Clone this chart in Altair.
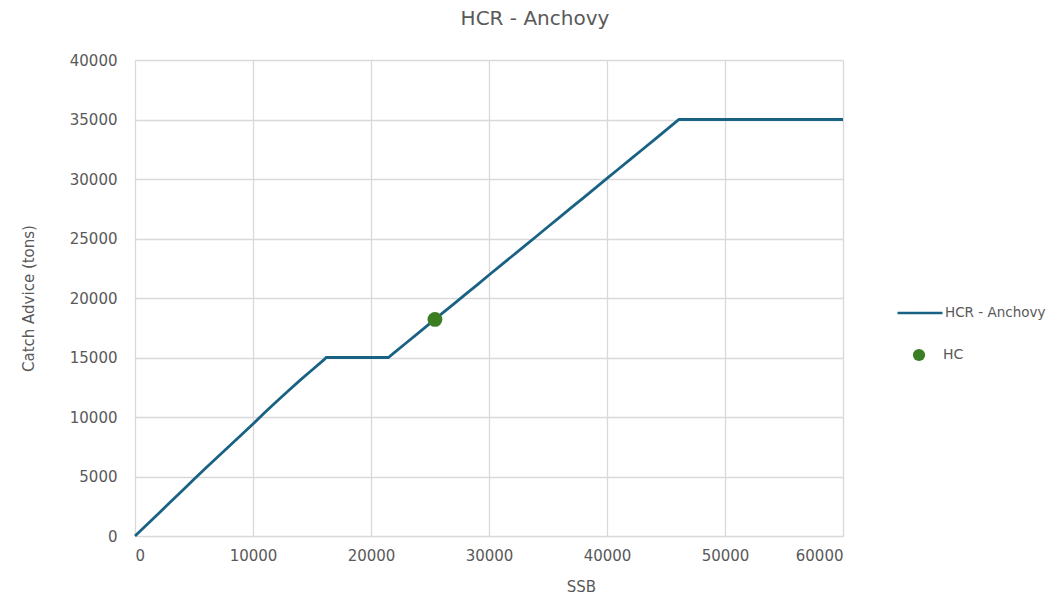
import altair as alt
import pandas as pd

# HCR - Anchovy curve (SSB, catch advice)
ssb = [0, 1000, 2000, 3000, 4000, 5000, 6000, 7000, 8000, 9000, 10000,
       11000, 12000, 13000, 14000, 15000, 16000, 16200,
       17000, 18000, 19000, 20000, 21000, 21470,
       22000, 23000, 24000, 25000, 26000, 27000, 28000, 29000, 30000,
       31000, 32000, 33000, 34000, 35000, 36000, 37000, 38000, 39000, 40000,
       41000, 42000, 43000, 44000, 45000, 46000, 46100,
       47000, 48000, 49000, 50000, 51000, 52000, 53000, 54000, 55000,
       56000, 57000, 58000, 59000, 60000]
catch = [0, 950, 1900, 2850, 3800, 4770, 5720, 6640, 7560, 8490, 9420,
         10380, 11300, 12200, 13100, 13950, 14800, 15000,
         15000, 15000, 15000, 15000, 15000, 15000,
         15430, 16240, 17050, 17870, 18680, 19490, 20300, 21110, 21930,
         22740, 23550, 24360, 25170, 25990, 26800, 27610, 28420, 29230, 30050,
         30860, 31670, 32480, 33290, 34110, 34920, 35000,
         35000, 35000, 35000, 35000, 35000, 35000, 35000, 35000, 35000,
         35000, 35000, 35000, 35000, 35000]

# HC point
hc_ssb = [25420]
hc_catch = [18200]

line_name = "HCR - Anchovy"
point_name = "HC"

df_line = pd.DataFrame({"SSB": ssb, "Catch": catch, "series": line_name})
df_pt = pd.DataFrame({"SSB": hc_ssb, "Catch": hc_catch, "series": point_name})

FONT = "DejaVu Sans"
GRAY = "#595959"
LINE_COLOR = "#1a6283"
PT_COLOR = "#3b7d23"

x_enc = alt.X("SSB:Q", title="SSB",
              scale=alt.Scale(domain=[0, 60000], nice=False),
              axis=alt.Axis(values=[0, 10000, 20000, 30000, 40000, 50000, 60000],
                            format="d", labelPadding=12, titleX=446, titleY=50,
                            titleBaseline="middle"))
y_enc = alt.Y("Catch:Q", title="Catch Advice (tons)",
              scale=alt.Scale(domain=[0, 40000], nice=False),
              axis=alt.Axis(values=[0, 5000, 10000, 15000, 20000, 25000, 30000, 35000, 40000],
                            format="d", labelPadding=18, titleX=-107, titleY=238,
                            titleAlign="center", titleBaseline="middle", titleAngle=-90))

line = alt.Chart(df_line).mark_line(strokeWidth=2.8).encode(
    x=x_enc, y=y_enc,
    stroke=alt.Stroke("series:N",
                      scale=alt.Scale(domain=[line_name], range=[LINE_COLOR]),
                      legend=alt.Legend(title=None, orient="none", legendX=761, legendY=229,
                                        symbolType="stroke", symbolSize=2025,
                                        symbolStrokeWidth=2.5, labelOffset=1, padding=0,
                                        labelFontSize=13.5)),
)

pt = alt.Chart(df_pt).mark_point(filled=True, size=220, opacity=1).encode(
    x="SSB:Q", y="Catch:Q",
    fill=alt.Fill("series:N",
                  scale=alt.Scale(domain=[point_name], range=[PT_COLOR]),
                  legend=alt.Legend(title=None, orient="none", legendX=777, legendY=288,
                                    symbolType="circle", symbolSize=150,
                                    symbolOpacity=1, labelOffset=17, padding=0,
                                    labelFontSize=14)),
)

chart = alt.layer(line, pt).properties(
    width=708, height=476,
    title=alt.TitleParams(text="HCR - Anchovy", anchor="middle", dx=46, offset=24,
                          fontSize=20, font=FONT, fontWeight="normal", color=GRAY),
    autosize=alt.AutoSizeParams(type="none"),
    padding={"left": 127, "top": 52, "right": 204, "bottom": 60},
).configure_view(
    stroke=None
).configure_axis(
    labelFont=FONT, labelFontSize=15, labelColor=GRAY,
    titleFont=FONT, titleFontSize=15, titleColor=GRAY, titleFontWeight="normal",
    domain=False, ticks=False, tickSize=0,
    gridColor="#d9d9d9", gridWidth=1.3,
).configure_legend(
    labelFont=FONT, labelColor=GRAY,
)

chart.save("out.html", embed_options={"renderer": "svg", "actions": False})
